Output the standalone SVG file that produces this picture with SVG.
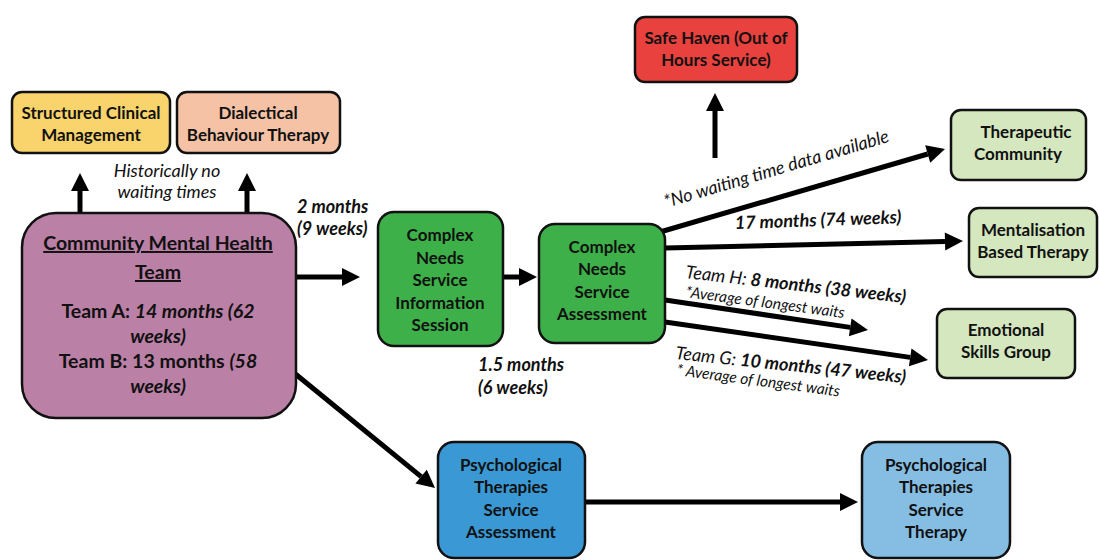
<svg xmlns="http://www.w3.org/2000/svg" width="1099" height="560" viewBox="0 0 1099 560">
<style>
.box{stroke:#111;stroke-width:2.5}
.t{font-family:Lato,"Liberation Sans",sans-serif;font-weight:bold;font-size:17px;fill:#111;text-anchor:middle}
.big{font-size:19.5px}
.lbl{font-family:Lato,"Liberation Sans",sans-serif;font-size:18px;fill:#111}
.bi{font-weight:bold;font-style:italic}
.it{font-style:italic}
.sm{font-size:15.5px}
.con line{stroke:#000;stroke-width:5;marker-end:url(#ah)}
</style>
<defs>
<marker id="ah" markerUnits="userSpaceOnUse" markerWidth="18" markerHeight="18" refX="0" refY="9" orient="auto" overflow="visible">
<path d="M0,0 L18,9 L0,18 z" fill="#000"/>
</marker>
</defs>
<rect width="1099" height="560" fill="#fff"/>

<g class="con">
<line x1="80" y1="213" x2="80" y2="191"/>
<line x1="247" y1="213" x2="247" y2="191"/>
<line x1="715" y1="158" x2="715" y2="111"/>
<line x1="296" y1="277" x2="342" y2="277"/>
<line x1="503" y1="277" x2="519" y2="277"/>
<line x1="660" y1="232" x2="927.7" y2="154"/>
<line x1="665" y1="248" x2="945" y2="241.4"/>
<line x1="665" y1="300" x2="850.2" y2="327.4"/>
<line x1="665" y1="322" x2="910.2" y2="357.4"/>
<line x1="293" y1="372" x2="421.1" y2="476.6"/>
<line x1="585" y1="502" x2="840" y2="502"/>
</g>

<g id="scm">
<rect class="box" x="12" y="92" width="158" height="61" rx="10" fill="#F9D36C"/>
<text class="t" x="91" y="119">Structured Clinical</text>
<text class="t" x="91" y="141">Management</text>
</g>
<g id="dbt">
<rect class="box" x="177" y="92" width="163" height="61" rx="10" fill="#F5C2A6"/>
<text class="t" x="258" y="119">Dialectical</text>
<text class="t" x="258" y="141">Behaviour Therapy</text>
</g>
<g id="hist">
<text class="lbl it" x="167" y="177" text-anchor="middle" fill="#333">Historically no</text>
<text class="lbl it" x="167" y="198" text-anchor="middle" fill="#333">waiting times</text>
</g>

<g id="cmht">
<rect class="box" x="22" y="213" width="274" height="205" rx="34" fill="#BA80A6"/>
<text class="t big" x="158" y="250" text-decoration="underline">Community Mental Health</text>
<text class="t big" x="158" y="279" text-decoration="underline">Team</text>
<text class="t big" x="158" y="318" font-weight="normal">Team A: <tspan class="bi">14 months (62</tspan></text>
<text class="t big bi" x="158" y="343">weeks)</text>
<text class="t big" x="158" y="368" font-weight="normal">Team B: <tspan font-weight="bold">13 months </tspan><tspan class="bi">(58</tspan></text>
<text class="t big bi" x="158" y="393">weeks)</text>
</g>

<g id="lbl-2m">
<text class="lbl bi" x="297" y="213">2 months</text>
<text class="lbl bi" x="297" y="235">(9 weeks)</text>
</g>

<g id="info">
<rect class="box" x="378" y="212" width="125" height="134" rx="16" fill="#3DB049"/>
<text class="t" x="440" y="241">Complex</text>
<text class="t" x="440" y="264">Needs</text>
<text class="t" x="440" y="286">Service</text>
<text class="t" x="440" y="309">Information</text>
<text class="t" x="440" y="331">Session</text>
</g>

<g id="assess">
<rect class="box" x="539" y="224" width="126" height="119" rx="16" fill="#3DB049"/>
<text class="t" x="602" y="253">Complex</text>
<text class="t" x="602" y="275">Needs</text>
<text class="t" x="602" y="298">Service</text>
<text class="t" x="602" y="320">Assessment</text>
</g>

<g id="lbl-15m">
<text class="lbl bi" x="478" y="371">1.5 months</text>
<text class="lbl bi" x="478" y="394">(6 weeks)</text>
</g>

<g id="safe">
<rect class="box" x="635" y="17" width="162" height="65" rx="10" fill="#E8413E"/>
<text class="t" x="716" y="44">Safe Haven (Out of</text>
<text class="t" x="716" y="66">Hours Service)</text>
</g>

<g id="tc">
<rect class="box" x="951" y="110" width="135" height="70" rx="10" fill="#D4E7BF"/>
<text class="t" x="1026" y="138">Therapeutic</text>
<text class="t" x="1018" y="160">Community</text>
</g>
<g id="mbt">
<rect class="box" x="969" y="208" width="128" height="69" rx="10" fill="#D4E7BF"/>
<text class="t" x="1033" y="236">Mentalisation</text>
<text class="t" x="1033" y="258">Based Therapy</text>
</g>
<g id="esg">
<rect class="box" x="937" y="309" width="138" height="69" rx="10" fill="#D4E7BF"/>
<text class="t" x="1006" y="336">Emotional</text>
<text class="t" x="1006" y="358">Skills Group</text>
</g>

<g id="labels-right">
<text class="lbl it" transform="translate(666,208) rotate(-16.5)">*No waiting time data available</text>
<text class="lbl bi" transform="translate(735,229) rotate(-2)">17 months (74 weeks)</text>
<text class="lbl" transform="translate(685,278) rotate(6.5)"><tspan class="it">Team H: </tspan><tspan class="bi">8 months (38 weeks)</tspan></text>
<text class="lbl it sm" transform="translate(685,297) rotate(7.5)">*Average of longest waits</text>
<text class="lbl" transform="translate(675,359) rotate(6)"><tspan class="it">Team G: </tspan><tspan class="bi">10 months (47 weeks)</tspan></text>
<text class="lbl it sm" transform="translate(676,375) rotate(7.5)">* Average of longest waits</text>
</g>

<g id="psa">
<rect class="box" x="438" y="442" width="147" height="116" rx="16" fill="#3A99D4"/>
<text class="t" x="511" y="471">Psychological</text>
<text class="t" x="511" y="493">Therapies</text>
<text class="t" x="511" y="516">Service</text>
<text class="t" x="511" y="538">Assessment</text>
</g>
<g id="pst">
<rect class="box" x="862" y="442" width="148" height="116" rx="16" fill="#86BDE3"/>
<text class="t" x="936" y="471">Psychological</text>
<text class="t" x="936" y="493">Therapies</text>
<text class="t" x="936" y="516">Service</text>
<text class="t" x="936" y="538">Therapy</text>
</g>
</svg>
